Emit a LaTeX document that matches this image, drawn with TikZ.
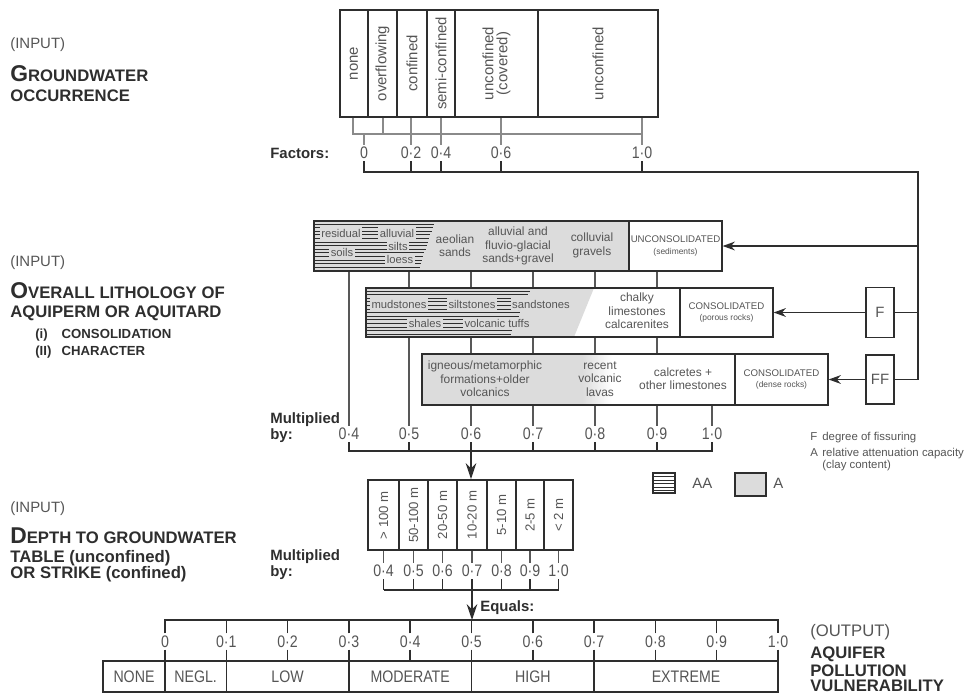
\documentclass[tikz,border=0pt]{standalone}
\usepackage{fontspec}
\setmainfont{Liberation Sans}
\newfontfamily\narrowfont[FakeStretch=0.85]{Liberation Sans}
\usetikzlibrary{positioning,arrows.meta}

\definecolor{ink}{HTML}{2E2E2E}
\definecolor{labgrey}{HTML}{555555}
\definecolor{tickgrey}{HTML}{8A8A8A}
\definecolor{litgrey}{HTML}{DCDCDC}

\newcommand{\fNum}{\narrowfont\fontsize{9.5}{10}\selectfont}
\newcommand{\fClass}{\narrowfont\fontsize{9.5}{10}\selectfont}
\newcommand{\fRot}{\fontsize{8.5}{8}\selectfont}
\newcommand{\fDep}{\fontsize{7.5}{8}\selectfont}
\newcommand{\fLith}{\fontsize{6.8}{7.6}\selectfont}
\newcommand{\fHatch}{\fontsize{6.4}{7}\selectfont}
\newcommand{\fCap}{\fontsize{5.5}{6.5}\selectfont}
\newcommand{\fCapSub}{\fontsize{4.8}{5.5}\selectfont}
\newcommand{\fKey}{\fontsize{6.5}{7.5}\selectfont}
\newcommand{\fInp}{\fontsize{8.5}{10}\selectfont}
\newcommand{\fOut}{\fontsize{9.5}{11}\selectfont}
\newcommand{\fHead}{\bfseries\fontsize{9.5}{11}\selectfont}
\newcommand{\fBig}{\bfseries\fontsize{13}{13}\selectfont}
\newcommand{\fSub}{\bfseries\fontsize{7.5}{9}\selectfont}
\newcommand{\fAx}{\bfseries\fontsize{8.5}{9}\selectfont}

\begin{document}
\begin{tikzpicture}[x=0.02cm, y=-0.02cm,
    frame/.style={draw=ink, line width=1.1pt, inner sep=0pt},
    vcell/.style={draw=ink, line width=0.7pt, rotate=90, inner sep=0pt,
        align=center, text=labgrey},
    hcell/.style={draw=ink, line width=0.7pt, inner sep=0pt,
        align=center, text=labgrey},
    nlab/.style={inner sep=1pt, font=\fNum, text=labgrey},
    lith/.style={inner sep=0.8pt, align=center, font=\fLith, text=labgrey},
    hlith/.style={lith, fill=litgrey, font=\fHatch},
    head/.style={anchor=base west, inner sep=0pt, text=ink},
    key/.style={anchor=base west, inner sep=0pt, font=\fKey, text=labgrey},
    tick/.style={draw=tickgrey, line width=0.6pt},
    drop/.style={draw=ink!80, line width=0.6pt},
    hatch/.style={draw=ink, line width=0.5pt},
    conn/.style={draw=ink, line width=0.9pt},
    arr/.style={conn, -{Stealth[length=7pt,width=5pt]}},
    bigarr/.style={conn, -{Stealth[length=9pt,width=6pt]}}
]

    \useasboundingbox (0,0) rectangle (971,694);

    % bends of the connectors
    \coordinate (brA) at (353,134);
    \coordinate (brB) at (383,134);
    \coordinate (brC) at (642,134);
    \coordinate (bus0) at (918,172);
    \coordinate (bus1) at (918,246);
    \coordinate (bus2) at (918,312.5);
    \coordinate (bus3) at (918,379.5);
    \coordinate (mbar) at (471,451);
    \coordinate (dbar) at (472,590);
    \coordinate (sctop) at (165,620);

    % Left titles
    \node[head, font=\fInp, text=labgrey] (inp1) at (10,48) {(INPUT)};
    \node[head, font=\fHead] (gwt1) at (10,81) {{\fBig G}ROUNDWATER};
    \node[head, font=\fHead] (gwt2) at (10,101) {OCCURRENCE};

    \node[head, font=\fInp, text=labgrey] (inp2) at (10,266) {(INPUT)};
    \node[head, font=\fHead] (lit1) at (10,298) {{\fBig O}VERALL LITHOLOGY OF};
    \node[head, font=\fHead] (lit2) at (10,317) {AQUIPERM OR AQUITARD};
    \node[head, font=\fSub] (lit3) at (35,338) {\makebox[15pt][l]{(i)}CONSOLIDATION};
    \node[head, font=\fSub] (lit4) at (35,355) {\makebox[15pt][l]{(II)}CHARACTER};

    \node[head, font=\fInp, text=labgrey] (inp3) at (10,512) {(INPUT)};
    \node[head, font=\fHead] (dpt1) at (10,543) {{\fBig D}EPTH TO GROUNDWATER};
    \node[head, font=\fHead] (dpt2) at (10,562) {TABLE (unconfined)};
    \node[head, font=\fHead] (dpt3) at (10,578) {OR STRIKE (confined)};

    % Groundwater occurrence
    \node[vcell, font=\fRot, minimum width=2.14cm, minimum height=0.56cm] (gw1) at (354,63.5) {none};
    \node[vcell, font=\fRot, minimum width=2.14cm, minimum height=0.58cm] (gw2) at (382.5,63.5) {overflowing};
    \node[vcell, font=\fRot, minimum width=2.14cm, minimum height=0.60cm] (gw3) at (412,63.5) {confined};
    \node[vcell, font=\fRot, minimum width=2.14cm, minimum height=0.56cm] (gw4) at (441,63.5) {semi-confined};
    \node[vcell, font=\fRot, minimum width=2.14cm, minimum height=1.66cm] (gw5) at (496.5,63.5) {unconfined\\(covered)};
    \node[vcell, font=\fRot, minimum width=2.14cm, minimum height=2.40cm] (gw6) at (598,63.5) {unconfined};
    \node[frame,
        minimum width=6.36cm,
        minimum height=2.14cm
    ] (gwbox) at (499,63.5) {};

    \node[head, font=\fAx] (fac) at (270,158) {Factors:};
    \node[nlab] (f0) at (364,153) {0};
    \node[nlab] (f02) at (411,153) {0·2};
    \node[nlab] (f04) at (441,153) {0·4};
    \node[nlab] (f06) at (501,153) {0·6};
    \node[nlab] (f10) at (642,153) {1·0};

    \draw[tick] (brA |- gwbox.south) -- (brA) -- (brC);
    \draw[tick] (brB |- gwbox.south) -- (brB);
    \draw[tick] (f0.north) -- (f0.north |- brA);
    \foreach \f in {f02,f04,f06,f10} {
        \draw[tick] (\f.north) -- (\f.north |- gwbox.south);
        \draw[conn] (\f.south) -- (\f.south |- bus0);
    }

    % Lithology: grey and hatched parts
    \fill[litgrey] (314,221) rectangle (629,271);
    \fill[litgrey] (366,288) -- (594,288) -- (574,337) -- (366,337) -- cycle;
    \fill[litgrey] (422,354) rectangle (582,405);
    \shade[left color=litgrey, right color=white] (582,354) rectangle (612,405);
    \foreach \k in {0,...,12}
        \draw[hatch] (314,{224+3.6*\k}) -- ({434-1.2*\k},{224+3.6*\k});
    \foreach \k in {0,...,12}
        \draw[hatch] (366,{291+3.6*\k}) -- ({530-1.6*\k},{291+3.6*\k});

    % unconsolidated
    \node[hlith] (res1) at (341,233) {residual};
    \node[hlith] (res2) at (342,252) {soils};
    \node[hlith] (all1) at (397,233) {alluvial};
    \node[hlith] (all2) at (398,246) {silts};
    \node[hlith] (all3) at (400,259) {loess};
    \node[lith] (aeol) at (455,245.5) {aeolian\\sands};
    \node[lith] (fluv) at (518,246) {alluvial and\\fluvio-glacial\\sands+gravel};
    \node[lith] (coll) at (592,245.5) {colluvial\\gravels};
    \node[hcell, fill=white, font=\fCap,
        minimum width=1.86cm,
        minimum height=1cm
    ] (uncons) at (675.5,246) {UNCONSOLIDATED\\{\fCapSub(sediments)}};
    \node[frame, minimum width=8.16cm, minimum height=1cm] (lith1) at (518,246) {};

    % consolidated, porous
    \node[hlith] (mud) at (399,304) {mudstones};
    \node[hlith] (silt) at (472,304) {siltstones};
    \node[hlith] (sand) at (541,304) {sandstones};
    \node[hlith] (shal) at (425,323) {shales};
    \node[hlith] (tuff) at (497,323) {volcanic tuffs};
    \node[lith] (chalk) at (637,311) {chalky\\limestones\\calcarenites};
    \node[hcell, fill=white, font=\fCap,
        minimum width=1.86cm,
        minimum height=0.98cm
    ] (cons) at (726.5,312.5) {CONSOLIDATED\\{\fCapSub(porous rocks)}};
    \node[frame, minimum width=8.14cm, minimum height=0.98cm] (lith2) at (569.5,312.5) {};

    % consolidated, dense
    \node[lith] (igne) at (485,379) {igneous/metamorphic\\formations+older\\volcanics};
    \node[lith] (lava) at (600,379) {recent\\volcanic\\lavas};
    \node[lith] (calc) at (683,379) {calcretes +\\other limestones};
    \node[hcell, fill=white, font=\fCap,
        minimum width=1.86cm,
        minimum height=1.02cm
    ] (dense) at (781.5,379.5) {CONSOLIDATED\\{\fCapSub(dense rocks)}};
    \node[frame, minimum width=8.12cm, minimum height=1.02cm] (lith3) at (625,379.5) {};

    % Fissuring
    \node[frame, font=\fRot, text=labgrey,
        minimum width=0.56cm,
        minimum height=1cm
    ] (ff1) at (880,312.5) {F};
    \node[frame, font=\fRot, text=labgrey,
        minimum width=0.56cm,
        minimum height=0.98cm
    ] (ff2) at (880,379.5) {FF};

    \draw[conn] (f0.south) |- (bus0) -- (bus3) -- (ff2.east);
    \draw[arr] (bus1) -- (uncons.east);
    \draw[conn] (bus2) -- (ff1.east);
    \draw[arr] (ff1.west) -- (cons.east);
    \draw[arr] (ff2.west) -- (dense.east);

    % Multiplied by
    \node[head, font=\fAx] (mul1) at (270,423) {Multiplied};
    \node[head, font=\fAx] (by1) at (270,439) {by:};
    \node[nlab] (m04) at (349,434) {0·4};
    \node[nlab] (m05) at (409,434) {0·5};
    \node[nlab] (m06) at (471,434) {0·6};
    \node[nlab] (m07) at (533,434) {0·7};
    \node[nlab] (m08) at (595,434) {0·8};
    \node[nlab] (m09) at (657,434) {0·9};
    \node[nlab] (m10) at (712,434) {1·0};

    \draw[drop] (m04.north) -- (m04.north |- lith1.south);
    \draw[drop] (m05.north |- lith1.south) -- (m05.north |- lith2.north);
    \draw[drop] (m05.north) -- (m05.north |- lith2.south);
    \foreach \m in {m06,m07,m08,m09} {
        \draw[drop] (\m.north |- lith1.south) -- (\m.north |- lith2.north);
        \draw[drop] (\m.north |- lith2.south) -- (\m.north |- lith3.north);
        \draw[drop] (\m.north) -- (\m.north |- lith3.south);
    }
    \draw[drop] (m10.north) -- (m10.north |- lith3.south);

    \draw[conn] (m04.south) |- (m10.south |- mbar) -- (m10.south);
    \foreach \m in {m05,m06,m07,m08,m09}
        \draw[conn] (\m.south) -- (\m.south |- mbar);

    % Depth to groundwater
    \foreach \i/\xx/\ww/\rng/\val in {1/383.5/0.62/> 100 m/0·4, 2/413.5/0.58/50-100 m/0·5,
            3/442.5/0.58/20-50 m/0·6, 4/472/0.60/10-20 m/0·7, 5/501.5/0.58/5-10 m/0·8,
            6/530/0.56/2-5 m/0·9, 7/558.5/0.58/< 2 m/1·0} {
        \node[vcell, font=\fDep, minimum width=1.4cm, minimum height=\ww cm] (dep\i) at (\xx,515) {\rng};
        \node[nlab] (d\i) at (\xx,571) {\val};
    }
    \node[frame, minimum width=4.1cm, minimum height=1.4cm] (depbox) at (470.5,515) {};

    \draw[bigarr] (mbar) -- (mbar |- depbox.north);

    \node[head, font=\fAx] (mul2) at (270,560) {Multiplied};
    \node[head, font=\fAx] (by2) at (270,576) {by:};
    \foreach \i in {1,...,7} {
        \draw[drop] (d\i.north) -- (d\i.north |- depbox.south);
        \draw[conn] (d\i.south) -- (d\i.south |- dbar);
    }
    \draw[conn] (d1.south |- dbar) -- (d7.south |- dbar);

    % Equals: vulnerability scale
    \node[head, font=\fAx] (eq) at (480,611) {Equals:};
    \foreach \i/\val in {0/0,1/0·1,2/0·2,3/0·3,4/0·4,5/0·5,6/0·6,7/0·7,8/0·8,9/0·9,10/1·0}
        \node[nlab] (s\i) at ({165+61.3*\i},641.5) {\val};

    \node[hcell, font=\fClass, minimum width=1.24cm, minimum height=0.62cm] (v1) at (134,676.5) {NONE};
    \node[hcell, font=\fClass, minimum width=1.226cm, minimum height=0.62cm] (v2) at (195.65,676.5) {NEGL.};
    \node[hcell, font=\fClass, minimum width=2.452cm, minimum height=0.62cm] (v3) at (287.6,676.5) {LOW};
    \node[hcell, font=\fClass, minimum width=2.452cm, minimum height=0.62cm] (v4) at (410.2,676.5) {MODERATE};
    \node[hcell, font=\fClass, minimum width=2.452cm, minimum height=0.62cm] (v5) at (532.8,676.5) {HIGH};
    \node[hcell, font=\fClass, minimum width=3.678cm, minimum height=0.62cm] (v6) at (686.05,676.5) {EXTREME};
    \node[frame, minimum width=13.5cm, minimum height=0.62cm] (vbox) at (440.5,676.5) {};

    \draw[bigarr] (dbar) -- (dbar |- sctop);
    \draw[conn] (s0.north) -- (s0.north |- sctop) -- (s10.north |- sctop) -- (s10.north);
    \foreach \i in {1,...,9}
        \draw[conn] (s\i.north) -- (s\i.north |- sctop);
    \foreach \i in {0,...,10}
        \draw[conn] (s\i.south) -- (s\i.south |- vbox.north);

    \node[head, font=\fOut, text=labgrey] (outp) at (810,636) {(OUTPUT)};
    \node[head, font=\fHead] (out1) at (810,658) {AQUIFER};
    \node[head, font=\fHead] (out2) at (810,676) {POLLUTION};
    \node[head, font=\fHead] (out3) at (810,691) {VULNERABILITY};

    % Key
    \foreach \k in {0,...,4}
        \draw[hatch] (653,{476.5+3.5*\k}) -- (675,{476.5+3.5*\k});
    \node[draw=ink, line width=0.8pt, inner sep=0pt,
        minimum width=0.44cm,
        minimum height=0.4cm
    ] (keyaa) at (664,483) {};
    \node[key, font=\fRot] (keyaat) at (692,488) {AA};
    \node[draw=ink, line width=0.8pt, inner sep=0pt, fill=litgrey,
        minimum width=0.62cm,
        minimum height=0.46cm
    ] (keya) at (750.5,484.5) {};
    \node[key, font=\fRot] (keyat) at (773,488) {A};

    \node[key] (kf) at (810,440) {F};
    \node[key] (kft) at (822,440) {degree of fissuring};
    \node[key] (ka) at (810,456) {A};
    \node[key] (kat) at (822,456) {relative attenuation capacity};
    \node[key] (kac) at (822,468) {(clay content)};

\end{tikzpicture}
\end{document}
